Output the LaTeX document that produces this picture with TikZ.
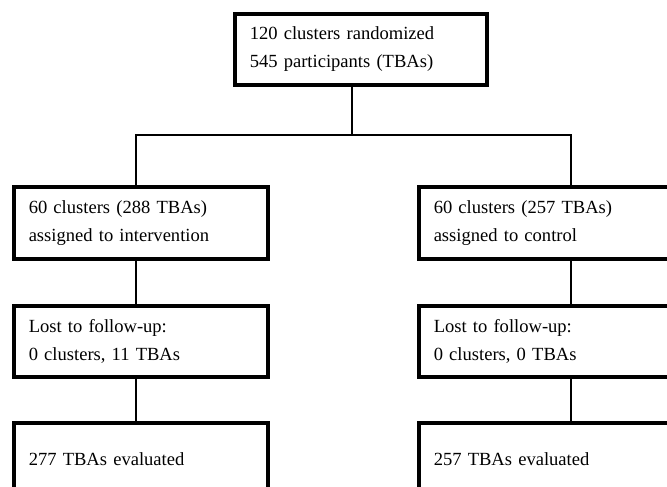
\documentclass[tikz,border=0pt]{standalone}
\usepackage{fontspec}
\setmainfont{Liberation Serif}
\tikzset{
  flowbox/.style={draw, rectangle, line width=2.5pt, anchor=north west, align=left,
    inner xsep=0.375cm, inner ysep=0pt, minimum height=1.8cm, text width=5.6cm,
    font=\fontsize{13.2}{19.9}\selectfont},
  link/.style={line width=1.4pt}
}
\begin{document}
\begin{tikzpicture}
  \clip (0,0) rectangle (16.675,-12.175);
  \node[flowbox, text width=5.55cm, minimum height=1.775cm] (rand) at (5.825,-0.3)
    {120 clusters randomized\\545 participants (TBAs)};
  \node[flowbox] (int) at (0.3,-4.625) {60 clusters (288 TBAs)\\assigned to intervention};
  \node[flowbox] (ctl) at (10.425,-4.625) {60 clusters (257 TBAs)\\assigned to control};
  \node[flowbox, minimum height=1.775cm] (intlost) at (0.3,-7.6) {Lost to follow-up:\\0 clusters, 11 TBAs};
  \node[flowbox, minimum height=1.775cm] (ctllost) at (10.425,-7.6) {Lost to follow-up:\\0 clusters, 0 TBAs};
  \node[flowbox] (inteval) at (0.3,-10.525) {277 TBAs evaluated};
  \node[flowbox] (ctleval) at (10.425,-10.525) {257 TBAs evaluated};
  % split below the randomization box
  \coordinate (split) at (8.8,-3.375);
  \coordinate (lsplit) at (3.4,-3.375);
  \coordinate (rsplit) at (14.275,-3.375);
  \draw[link] (split |- rand.south) -- (split);
  \draw[link] (lsplit |- int.north) -- (lsplit) -- (rsplit) -- (rsplit |- ctl.north);
  \draw[link] (lsplit |- int.south) -- (lsplit |- intlost.north);
  \draw[link] (rsplit |- ctl.south) -- (rsplit |- ctllost.north);
  \draw[link] (lsplit |- intlost.south) -- (lsplit |- inteval.north);
  \draw[link] (rsplit |- ctllost.south) -- (rsplit |- ctleval.north);
\end{tikzpicture}
\end{document}
